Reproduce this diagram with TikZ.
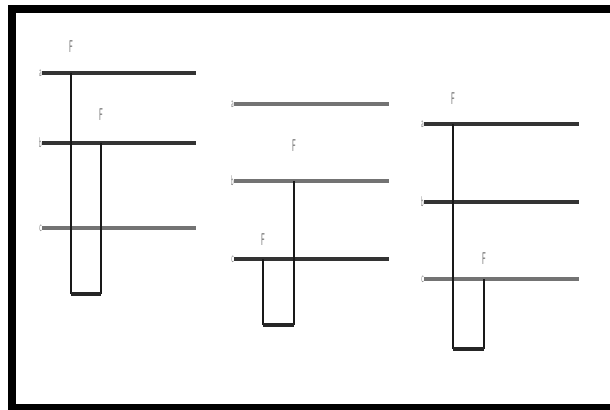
\documentclass[tikz,border=0pt]{standalone}
\usepackage{tikz}

\tikzset{
  bar/.style={line width=3.4pt, black!80},
  pale/.style={line width=3.6pt, black!55},
  rod/.style={line width=1.2pt, black!90},
  foot/.style={line width=2.6pt, black!85},
  lab/.style={font=\sffamily\large, text=black!50, inner sep=0.3pt, xscale=0.4, transform shape},
  fl/.style={font=\sffamily\Large, text=black!65, inner sep=0pt, xscale=0.4, transform shape}
}

\begin{document}
\begin{tikzpicture}[x=0.03cm, y=-0.03cm] %px
\useasboundingbox (0,0) rectangle (610,409);
\draw[line width=6.8pt] (12,9) rectangle (650,408);

% first set
\coordinate (L1a) at (42,73); \coordinate (R1a) at (196,73);
\coordinate (L1b) at (42,143); \coordinate (R1b) at (196,143);
\coordinate (L1c) at (42,228); \coordinate (R1c) at (196,228);
\draw[bar] (L1a) -- (R1a);
\draw[bar] (L1b) -- (R1b);
\draw[pale] (L1c) -- (R1c);
\node[lab, left] (a1) at (L1a) {a};
\node[lab, left] (b1) at (L1b) {b};
\node[lab, left] (c1) at (L1c) {c};
\coordinate (P1_1) at (71,73); \coordinate (P1_2) at (101,143);
\coordinate (Q1_1) at (71,294); \coordinate (Q1_2) at (101,294);
\draw[rod] (P1_1) -- (Q1_1);
\draw[rod] (P1_2) -- (Q1_2);
\draw[foot] (Q1_1) -- (Q1_2);
\node[fl] (F1_1) at (71,47) {F};
\node[fl] (F1_2) at (101,115) {F};

% second set
\coordinate (L2a) at (234,104); \coordinate (R2a) at (389,104);
\coordinate (L2b) at (234,181); \coordinate (R2b) at (389,181);
\coordinate (L2c) at (234,259); \coordinate (R2c) at (389,259);
\draw[pale] (L2a) -- (R2a);
\draw[pale] (L2b) -- (R2b);
\draw[bar] (L2c) -- (R2c);
\node[lab, left] (a2) at (L2a) {a};
\node[lab, left] (b2) at (L2b) {b};
\node[lab, left] (c2) at (L2c) {c};
\coordinate (P2_1) at (263,259); \coordinate (P2_2) at (294,181);
\coordinate (Q2_1) at (263,325); \coordinate (Q2_2) at (294,325);
\draw[rod] (P2_1) -- (Q2_1);
\draw[rod] (P2_2) -- (Q2_2);
\draw[foot] (Q2_1) -- (Q2_2);
\node[fl] (F2_1) at (263,240) {F};
\node[fl] (F2_2) at (294,146) {F};

% third set
\coordinate (L3a) at (424,124); \coordinate (R3a) at (579,124);
\coordinate (L3b) at (424,202); \coordinate (R3b) at (579,202);
\coordinate (L3c) at (424,279); \coordinate (R3c) at (579,279);
\draw[bar] (L3a) -- (R3a);
\draw[bar] (L3b) -- (R3b);
\draw[pale] (L3c) -- (R3c);
\node[lab, left] (a3) at (L3a) {a};
\node[lab, left] (b3) at (L3b) {b};
\node[lab, left] (c3) at (L3c) {c};
\coordinate (P3_1) at (453,124); \coordinate (P3_2) at (484,279);
\coordinate (Q3_1) at (453,349); \coordinate (Q3_2) at (484,349);
\draw[rod] (P3_1) -- (Q3_1);
\draw[rod] (P3_2) -- (Q3_2);
\draw[foot] (Q3_1) -- (Q3_2);
\node[fl] (F3_1) at (453,99) {F};
\node[fl] (F3_2) at (484,259) {F};
\end{tikzpicture}
\end{document}
